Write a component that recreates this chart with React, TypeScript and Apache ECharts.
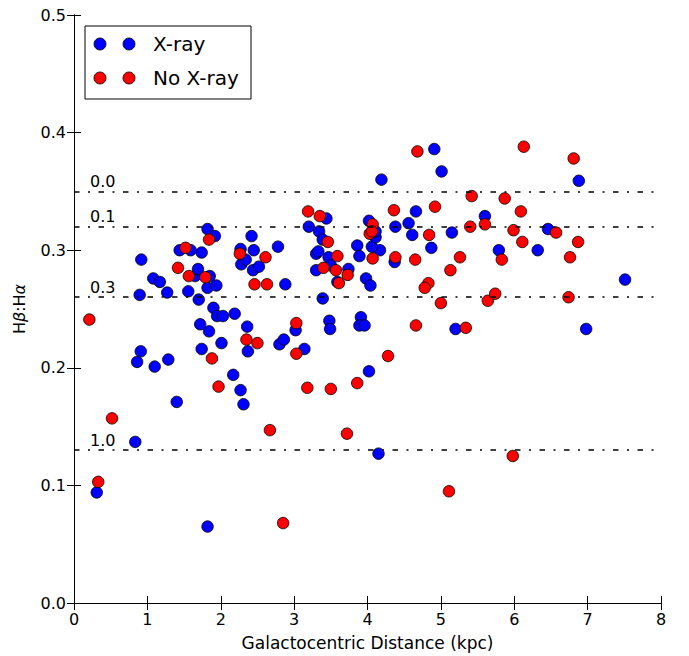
import React, { useEffect, useRef } from "react";
import * as echarts from "echarts";

// Galactocentric distance (kpc) and Hβ:Hα ratio of the X-ray detected sources
const xrayPoints: [number, number][] = [
  [0.31, 0.094], [0.835, 0.137], [0.86, 0.205], [0.91, 0.214], [1.1, 0.201],
  [1.285, 0.207], [1.4, 0.171], [0.917, 0.292], [0.895, 0.262], [1.08, 0.276],
  [1.17, 0.273], [1.27, 0.264], [1.44, 0.3], [1.59, 0.3], [1.74, 0.298],
  [1.82, 0.318], [1.92, 0.312], [1.557, 0.265], [1.65, 0.278], [1.69, 0.284],
  [1.85, 0.278], [1.82, 0.268], [1.94, 0.27], [1.7, 0.258], [1.9, 0.251],
  [1.95, 0.244], [2.03, 0.244], [2.19, 0.246], [1.72, 0.237], [1.84, 0.231],
  [2.36, 0.235], [2.27, 0.301], [2.28, 0.288], [2.34, 0.292], [2.45, 0.3],
  [2.42, 0.312], [2.44, 0.283], [2.52, 0.286], [2.78, 0.303], [2.88, 0.271],
  [3.2, 0.32], [3.44, 0.327], [3.34, 0.316], [3.39, 0.309], [3.3, 0.297],
  [3.33, 0.299], [3.47, 0.294], [3.3, 0.283], [3.5, 0.287], [3.59, 0.273],
  [3.39, 0.259], [3.74, 0.284], [3.48, 0.24], [3.49, 0.233], [2.01, 0.221],
  [1.74, 0.216], [2.37, 0.214], [2.17, 0.194], [2.27, 0.181], [2.31, 0.169],
  [2.8, 0.22], [2.86, 0.224], [3.02, 0.232], [3.14, 0.216], [1.82, 0.065],
  [4.91, 0.386], [5.01, 0.367], [4.19, 0.36], [5.6, 0.329], [4.66, 0.333],
  [4.56, 0.323], [4.38, 0.32], [4.61, 0.313], [5.15, 0.315], [6.46, 0.318],
  [6.88, 0.359], [4.87, 0.302], [5.79, 0.3], [6.32, 0.3], [7.51, 0.275],
  [4.37, 0.29], [4.17, 0.3], [4.06, 0.303], [4.02, 0.325], [4.11, 0.311],
  [4.11, 0.316], [3.86, 0.304], [3.89, 0.295], [3.98, 0.276], [4.04, 0.27],
  [3.91, 0.243], [3.89, 0.236], [3.96, 0.236], [5.2, 0.233], [6.98, 0.233],
  [4.02, 0.197], [4.15, 0.127],
];

// Sources without an X-ray counterpart
const noXrayPoints: [number, number][] = [
  [0.209, 0.241], [0.518, 0.157], [0.33, 0.103], [1.52, 0.302], [1.84, 0.309],
  [1.417, 0.285], [1.565, 0.278], [1.79, 0.277], [3.03, 0.238], [2.26, 0.297],
  [2.61, 0.294], [2.46, 0.271], [2.63, 0.271], [3.19, 0.333], [3.35, 0.329],
  [3.46, 0.307], [3.59, 0.295], [3.4, 0.285], [3.57, 0.283], [3.61, 0.272],
  [3.73, 0.279], [1.88, 0.208], [1.97, 0.184], [2.35, 0.224], [2.5, 0.221],
  [2.67, 0.147], [3.03, 0.212], [3.18, 0.183], [3.5, 0.182], [3.72, 0.144],
  [2.85, 0.068], [4.68, 0.384], [6.13, 0.388], [6.81, 0.378], [5.42, 0.346],
  [5.87, 0.344], [6.09, 0.333], [5.6, 0.322], [5.4, 0.32], [4.92, 0.337],
  [4.36, 0.334], [4.84, 0.313], [5.99, 0.317], [6.57, 0.315], [6.11, 0.307],
  [6.87, 0.307], [5.83, 0.292], [6.76, 0.294], [5.26, 0.294], [5.13, 0.283],
  [4.83, 0.272], [4.78, 0.268], [4.65, 0.292], [4.38, 0.294], [4.07, 0.293],
  [4.07, 0.322], [4.03, 0.314], [4.06, 0.316], [5.64, 0.257], [5.74, 0.263],
  [6.74, 0.26], [5.0, 0.255], [4.66, 0.236], [5.34, 0.234], [4.28, 0.21],
  [3.86, 0.187], [5.98, 0.125], [5.11, 0.095],
];

// Reference ratios and the values they are labelled with
const levelValues = [0.35, 0.316, 0.26, 0.13];
const levelLabels = ["0.0", "0.1", "0.3", "1.0"];

const seriesNames = ["X-ray", "No X-ray"];
const seriesColors = ["#0000ff", "#ff0000"];

const FONT = "DejaVu Sans";

export default function App() {
  const ref = useRef<HTMLDivElement>(null);

  useEffect(() => {
    if (!ref.current) return;
    const chart = echarts.init(ref.current, undefined, { renderer: "svg" });

    const axisCommon = {
      axisLine: { show: true, lineStyle: { color: "#000", width: 1 } },
      splitLine: { show: false },
    };

    const xBase = { type: "value" as const, min: 0, max: 8, interval: 1 };
    const yBase = { type: "value" as const, min: 0, max: 0.5, interval: 0.1 };

    const scatterStyle = (i: number) => ({
      name: seriesNames[i],
      type: "scatter" as const,
      symbol: "circle",
      symbolSize: 11.5,
      itemStyle: { color: seriesColors[i], borderColor: "#000", borderWidth: 0.8, opacity: 1 },
      xAxisIndex: 0,
      yAxisIndex: 0,
    });

    const legendRows = seriesNames.map((name, i) => {
      const cy = 44 + i * 34;
      return [
        { type: "circle", shape: { cx: 100, cy, r: 6 }, style: { fill: seriesColors[i], stroke: "#000", lineWidth: 0.8 } },
        { type: "circle", shape: { cx: 129, cy, r: 6 }, style: { fill: seriesColors[i], stroke: "#000", lineWidth: 0.8 } },
        {
          type: "text",
          x: 153,
          y: cy,
          style: { text: name, fill: "#000", font: `20px '${FONT}'`, textVerticalAlign: "middle", verticalAlign: "middle" },
        },
      ];
    }).flat();

    chart.setOption({
      animation: false,
      backgroundColor: "#fff",
      textStyle: { fontFamily: FONT },
      grid: { left: 74, right: 28, top: 15, bottom: 53, containLabel: false },
      xAxis: [
        {
          ...xBase,
          ...axisCommon,
          position: "bottom",
          axisTick: { show: true, inside: true, length: 7, lineStyle: { color: "#000" } },
          axisLabel: { show: true, color: "#000", fontSize: 16, margin: 8, fontFamily: FONT },
          name: "Galactocentric Distance (kpc)",
          nameLocation: "middle",
          nameGap: 31,
          nameTextStyle: { color: "#000", fontSize: 17, fontFamily: FONT },
        },
        {
          ...xBase,
          ...axisCommon,
          position: "top",
          axisTick: { show: true, inside: true, length: 7, lineStyle: { color: "#000" } },
          axisLabel: { show: false },
        },
      ],
      yAxis: [
        {
          ...yBase,
          ...axisCommon,
          position: "left",
          axisTick: { show: true, inside: true, length: 7, lineStyle: { color: "#000" } },
          axisLabel: {
            show: true,
            color: "#000",
            fontSize: 16,
            margin: 8,
            fontFamily: FONT,
            formatter: (v: number) => v.toFixed(1),
          },
          name: "{n|H}{g|β}{n|:H}{g|α}",
          nameLocation: "middle",
          nameGap: 47,
          nameTextStyle: {
            color: "#000",
            rich: {
              n: { fontSize: 16, fontFamily: FONT, color: "#000" },
              g: { fontSize: 16, fontFamily: FONT, fontStyle: "italic", color: "#000" },
            },
          },
        },
        {
          ...yBase,
          ...axisCommon,
          position: "right",
          axisTick: { show: true, inside: true, length: 7, lineStyle: { color: "#000" } },
          axisLabel: { show: false },
        },
      ],
      series: [
        { ...scatterStyle(0), data: xrayPoints },
        { ...scatterStyle(1), data: noXrayPoints },
        {
          name: "levels",
          type: "scatter",
          data: [],
          xAxisIndex: 0,
          yAxisIndex: 0,
          markLine: {
            silent: true,
            symbol: "none",
            lineStyle: { color: "#000", width: 1.5, type: [5.5, 8.5, 2, 8.5] },
            label: {
              show: true,
              position: "insideStartTop",
              formatter: "{b}",
              color: "#000",
              fontSize: 16,
              fontFamily: FONT,
              distance: [16, 2],
            },
            data: levelValues.map((v, i) => ({ yAxis: v, name: levelLabels[i] })),
          },
        },
      ],
      graphic: [
        {
          type: "group",
          z: 100,
          children: [
            { type: "rect", shape: { x: 85, y: 26, width: 166, height: 73 }, style: { fill: "#fff", stroke: "#000", lineWidth: 1 } },
            ...legendRows,
          ],
        },
      ],
    });

    return () => chart.dispose();
  }, []);

  return <div ref={ref} style={{ width: 689, height: 656, position: "absolute", left: 0, top: 0 }} />;
}
